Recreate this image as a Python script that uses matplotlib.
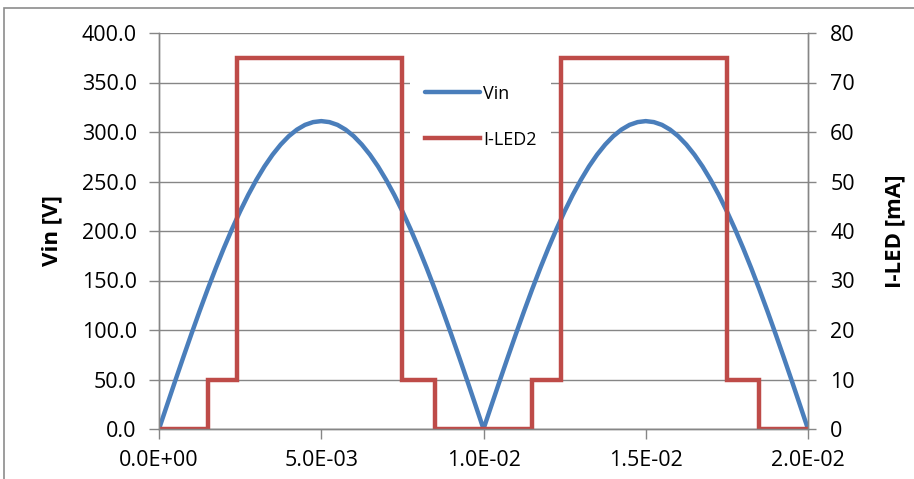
import matplotlib
matplotlib.use("Agg")
import matplotlib.pyplot as plt
from matplotlib.patches import Rectangle
from matplotlib.ticker import FormatStrFormatter, FuncFormatter

# Rectified mains voltage, sampled every 0.25 ms
time_s = [i * 0.00025 for i in range(81)]
vin_v = [
    0.0, 24.4, 48.7, 72.6, 96.1, 119.0, 141.2, 162.5, 182.8, 202.0,
    219.9, 236.5, 251.6, 265.2, 277.1, 287.3, 295.8, 302.4, 307.2, 310.0,
    311.0, 310.0, 307.2, 302.4, 295.8, 287.3, 277.1, 265.2, 251.6, 236.5,
    219.9, 202.0, 182.8, 162.5, 141.2, 119.0, 96.1, 72.6, 48.7, 24.4,
    0.0, 24.4, 48.7, 72.6, 96.1, 119.0, 141.2, 162.5, 182.8, 202.0,
    219.9, 236.5, 251.6, 265.2, 277.1, 287.3, 295.8, 302.4, 307.2, 310.0,
    311.0, 310.0, 307.2, 302.4, 295.8, 287.3, 277.1, 265.2, 251.6, 236.5,
    219.9, 202.0, 182.8, 162.5, 141.2, 119.0, 96.1, 72.6, 48.7, 24.4,
    0.0,
]

# LED string current steps (value holds until the next switching time)
led_time_s = [0.0, 0.0015, 0.0024, 0.0075, 0.0085, 0.0115, 0.0124, 0.0175, 0.0185, 0.02]
led_ma = [0, 10, 75, 10, 0, 10, 75, 10, 0, 0]

x_ticks = [0.0, 0.005, 0.01, 0.015, 0.02]
vin_ticks = [0, 50, 100, 150, 200, 250, 300, 350, 400]
led_ticks = [0, 10, 20, 30, 40, 50, 60, 70, 80]

BLUE = "#4A7EBB"
RED = "#BE4B48"
GRID = "#868686"

plt.rcParams["font.family"] = ["Open Sans", "DejaVu Sans"]

fig = plt.figure(figsize=(9.14, 4.79), dpi=100)
ax = fig.add_axes([159 / 914, 1 - 429 / 479, (808 - 159) / 914, (429 - 33) / 479])
ax2 = ax.twinx()

# Chart area border
fig.patches.append(Rectangle((4 / 914, -0.1), 1.2, 1 - 8 / 479 + 0.1,
                             transform=fig.transFigure, fill=False,
                             edgecolor="#8C8C8C", linewidth=1.2))

ax.plot(time_s, vin_v, color=BLUE, linewidth=3.2, label="Vin",
        solid_capstyle="round", solid_joinstyle="round")
ax2.plot(led_time_s, led_ma, color=RED, linewidth=3.2, drawstyle="steps-post",
         label="I-LED2", solid_joinstyle="miter")

ax.set_xlim(0, 0.02)
ax.set_ylim(0, 400)
ax2.set_ylim(0, 80)
ax.set_xticks(x_ticks)
ax.set_yticks(vin_ticks)
ax2.set_yticks(led_ticks)
ax.xaxis.set_major_formatter(FuncFormatter(lambda v, p: "%.1E" % v))
ax.yaxis.set_major_formatter(FormatStrFormatter("%.1f"))
ax2.yaxis.set_major_formatter(FormatStrFormatter("%d"))

ax.grid(axis="y", color=GRID, linewidth=1.0)
ax.set_axisbelow(True)
for a in (ax, ax2):
    a.spines["top"].set_visible(False)
    for s in ("left", "right", "bottom"):
        a.spines[s].set_color(GRID)
        a.spines[s].set_linewidth(1.0)
ax.tick_params(axis="both", colors=GRID, labelcolor="black", labelsize=15.5,
               length=7, width=1.0)
ax.tick_params(axis="y", pad=9)
ax.tick_params(axis="x", pad=8)
ax2.tick_params(axis="y", colors=GRID, labelcolor="black", labelsize=15.5,
                length=6, width=1.0, pad=10)

ax.set_ylabel("Vin [V]", fontsize=16, fontweight="bold")
ax2.set_ylabel("I-LED [mA]", fontsize=16, fontweight="bold", rotation=90,
               va="top")
ax.yaxis.set_label_coords(-0.149, 0.5)
ax2.yaxis.set_label_coords(1.118, 0.5)

h1, l1 = ax.get_legend_handles_labels()
h2, l2 = ax2.get_legend_handles_labels()
leg = ax2.legend(h1 + h2, l1 + l2, loc="upper left",
                 bbox_to_anchor=(0.387, 0.906), frameon=True, fontsize=13,
                 handlelength=3.05, handletextpad=0.2, labelspacing=1.55,
                 borderpad=0.8, borderaxespad=0)
leg.get_frame().set_edgecolor("none")
leg.get_frame().set_facecolor("white")
leg.get_frame().set_alpha(1.0)

fig.savefig("out.png", dpi=100)
